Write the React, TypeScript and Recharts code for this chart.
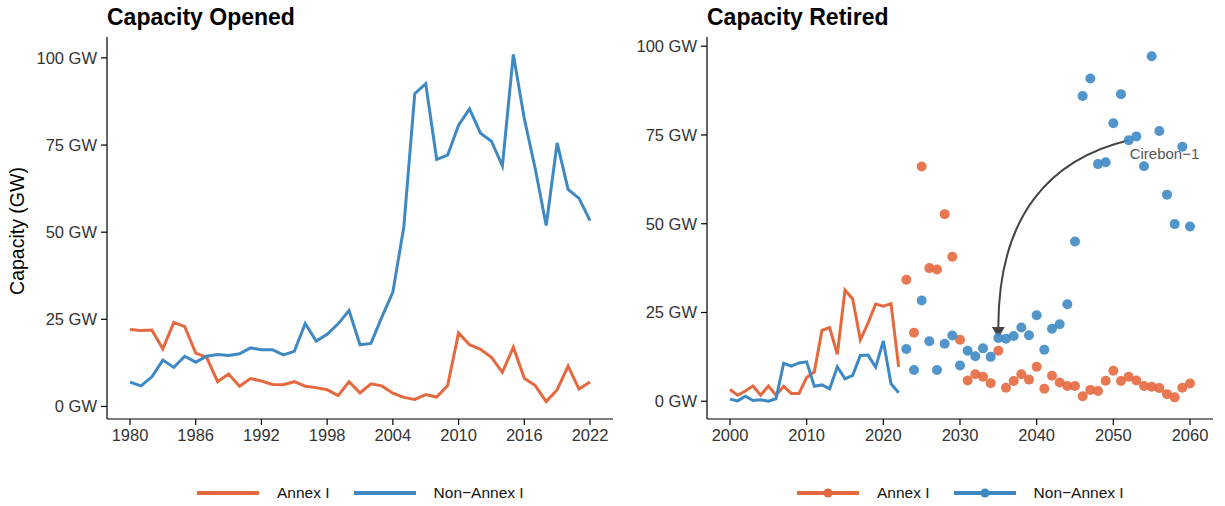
import React from 'react'
import { ComposedChart, Line, XAxis, YAxis, ReferenceLine } from 'recharts'

const ORANGE = '#E4693F'
const BLUE = '#3E89C4'
const FONT = '"Liberation Sans", Arial, Helvetica, sans-serif'

// Capacity opened, 1980-2022 (GW)
const openedYears = [
  1980, 1981, 1982, 1983, 1984, 1985, 1986, 1987, 1988, 1989,
  1990, 1991, 1992, 1993, 1994, 1995, 1996, 1997, 1998, 1999,
  2000, 2001, 2002, 2003, 2004, 2005, 2006, 2007, 2008, 2009,
  2010, 2011, 2012, 2013, 2014, 2015, 2016, 2017, 2018, 2019,
  2020, 2021, 2022,
]
const openedAnnex = [
  22.1, 21.8, 21.9, 16.5, 24.1, 22.9, 15.3, 14.1, 7.1, 9.3,
  5.8, 8.0, 7.3, 6.3, 6.25, 7.1, 5.8, 5.4, 4.8, 3.1,
  7.1, 3.9, 6.5, 5.9, 3.8, 2.6, 2.0, 3.4, 2.7, 6.0,
  21.1, 17.7, 16.4, 14.1, 9.8, 17.0, 8.1, 6.0, 1.4, 4.8,
  11.6, 5.0, 7.0,
]
const openedNonAnnex = [
  7.0, 5.9, 8.5, 13.3, 11.2, 14.4, 12.7, 14.4, 14.9, 14.6,
  15.1, 16.8, 16.3, 16.3, 14.8, 15.8, 23.8, 18.75, 20.7, 23.7,
  27.5, 17.7, 18.1, 25.7, 32.8, 51.5, 89.75, 92.6, 70.9, 72.1,
  80.7, 85.4, 78.4, 76.1, 69.0, 101.0, 82.6, 68.2, 51.9, 75.6,
  62.3, 59.7, 53.3,
]
const openedTicks = [1980, 1986, 1992, 1998, 2004, 2010, 2016, 2022]

// Capacity retired: history 2000-2022 (lines), projected 2023-2060 (points)
const retiredHistYears = [
  2000, 2001, 2002, 2003, 2004, 2005, 2006, 2007, 2008, 2009,
  2010, 2011, 2012, 2013, 2014, 2015, 2016, 2017, 2018, 2019,
  2020, 2021, 2022,
]
const retiredHistAnnex = [
  3.3, 1.7, 2.9, 4.3, 1.7, 4.3, 1.7, 4.2, 2.2, 2.2,
  6.7, 8.3, 20.0, 20.7, 13.2, 31.3, 28.8, 17.3, 22.0, 27.4,
  26.8, 27.5, 9.7,
]
const retiredHistNonAnnex = [
  0.6, 0.1, 1.4, 0.2, 0.4, 0.0, 0.7, 10.7, 9.9, 10.8,
  11.1, 4.2, 4.6, 3.5, 9.7, 6.3, 7.3, 12.9, 13.0, 9.6,
  17.0, 4.9, 2.4,
]
const retiredProjYears = [
  2023, 2024, 2025, 2026, 2027, 2028, 2029, 2030, 2031, 2032,
  2033, 2034, 2035, 2036, 2037, 2038, 2039, 2040, 2041, 2042,
  2043, 2044, 2045, 2046, 2047, 2048, 2049, 2050, 2051, 2052,
  2053, 2054, 2055, 2056, 2057, 2058, 2059, 2060,
]
const retiredProjAnnex = [
  34.2, 19.3, 66.1, 37.5, 37.1, 52.7, 40.7, 17.3, 5.85, 7.6,
  6.9, 5.1, 14.2, 3.8, 5.7, 7.6, 6.1, 9.7, 3.5, 7.2,
  5.3, 4.3, 4.3, 1.4, 3.2, 2.9, 5.75, 8.6, 5.7, 6.9,
  5.85, 4.3, 4.1, 3.7, 2.0, 1.1, 3.8, 5.0,
]
const retiredProjNonAnnex = [
  14.7, 8.8, 28.4, 16.9, 8.8, 16.2, 18.5, 10.1, 14.2, 12.7,
  14.9, 12.5, 17.8, 17.6, 18.4, 20.75, 18.6, 24.2, 14.5, 20.4,
  21.7, 27.3, 45.0, 86.0, 90.9, 66.8, 67.3, 78.3, 86.5, 73.5,
  74.6, 66.2, 97.2, 76.1, 58.2, 49.9, 71.7, 49.2,
]
const retiredTicks = [2000, 2010, 2020, 2030, 2040, 2050, 2060]

const gwTicks = [0, 25, 50, 75, 100]
const seriesNames = ['Annex I', 'Non\u2212Annex I']

// annotation: arrow from Cirebon-1 point to its 2035 position
const annotationLabel = 'Cirebon\u22121'
const annotationFrom = { x: 2052, y: 73.5 }
const annotationTo = { x: 2035, y: 17.8 }

const openedData = openedYears.map((year, i) => ({
  year,
  annex: openedAnnex[i],
  nonAnnex: openedNonAnnex[i],
}))

const retiredData = [
  ...retiredHistYears.map((year, i) => ({
    year,
    annexHist: retiredHistAnnex[i],
    nonAnnexHist: retiredHistNonAnnex[i],
  })),
  ...retiredProjYears.map((year, i) => ({
    year,
    annexProj: retiredProjAnnex[i],
    nonAnnexProj: retiredProjNonAnnex[i],
  })),
]

const tickStyle = { fill: '#333', fontSize: 16.5, fontFamily: FONT }
const axisLine = { stroke: '#000', strokeWidth: 1.2 }

const CurvedArrow = (props: any) => {
  const { x1, y1, x2, y2 } = props
  const dx = x1 - x2
  const head = 11
  const by = y2 - head
  const c1x = x1 - 0.6 * dx
  const c1y = y1 + 0.1 * (by - y1)
  const c2x = x2
  const c2y = by - 0.6 * (by - y1)
  return (
    <g>
      <path
        d={`M${x1},${y1} C${c1x},${c1y} ${c2x},${c2y} ${x2},${by}`}
        fill="none"
        stroke="#444"
        strokeWidth={2}
      />
      <polygon points={`${x2 - 6.5},${by} ${x2 + 6.5},${by} ${x2},${y2}`} fill="#444" />
      <text
        x={x1 + 1}
        y={y1 + 13}
        dominantBaseline="central"
        fontSize={15}
        fontFamily={FONT}
        fill="#555"
      >
        {annotationLabel}
      </text>
    </g>
  )
}

const Title = ({ left, text }: { left: number; text: string }) => (
  <div
    style={{
      position: 'absolute',
      left,
      top: 6,
      fontSize: 23,
      lineHeight: '23px',
      fontWeight: 700,
      fontFamily: FONT,
      color: '#000',
      whiteSpace: 'nowrap',
    }}
  >
    {text}
  </div>
)

const LegendRow = ({ left, withDots }: { left: number; withDots: boolean }) => {
  const colors = [ORANGE, BLUE]
  return (
    <div
      style={{
        position: 'absolute',
        left,
        top: 483,
        height: 20,
        display: 'flex',
        alignItems: 'center',
        fontFamily: FONT,
        fontSize: 15.5,
        color: '#111',
        whiteSpace: 'nowrap',
      }}
    >
      {seriesNames.map((name, i) => (
        <div key={name} style={{ display: 'flex', alignItems: 'center', marginRight: 24 }}>
          <svg width={62} height={12} style={{ marginRight: 18 }}>
            <line x1={0} y1={6} x2={62} y2={6} stroke={colors[i]} strokeWidth={4} />
            {withDots && <circle cx={31} cy={6} r={4.5} fill={colors[i]} />}
          </svg>
          <span>{name}</span>
        </div>
      ))}
    </div>
  )
}

export default function App() {
  return (
    <div
      style={{
        position: 'absolute',
        left: 0,
        top: 0,
        width: 1225,
        height: 506,
        background: '#fff',
        overflow: 'hidden',
      }}
    >
      <div style={{ position: 'absolute', left: 0, top: 0 }}>
        <ComposedChart
          width={620}
          height={506}
          data={openedData}
          margin={{ top: 37, right: 7, bottom: 57, left: 0 }}
        >
          <XAxis
            dataKey="year"
            type="number"
            domain={[1977.9, 2024.1]}
            ticks={openedTicks}
            allowDataOverflow
            height={30}
            tickSize={6}
            tickMargin={4}
            axisLine={axisLine}
            tickLine={axisLine}
            tick={tickStyle}
          />
          <YAxis
            type="number"
            domain={[-3.6, 106]}
            ticks={gwTicks}
            allowDataOverflow
            width={107}
            tickSize={6}
            tickMargin={4}
            tickFormatter={(v: number) => `${v} GW`}
            axisLine={axisLine}
            tickLine={axisLine}
            tick={tickStyle}
          />
          <Line
            dataKey="annex"
            name={seriesNames[0]}
            stroke={ORANGE}
            strokeWidth={3}
            dot={false}
            activeDot={false}
            type="linear"
            isAnimationActive={false}
          />
          <Line
            dataKey="nonAnnex"
            name={seriesNames[1]}
            stroke={BLUE}
            strokeWidth={3}
            dot={false}
            activeDot={false}
            type="linear"
            isAnimationActive={false}
          />
        </ComposedChart>
      </div>

      <div style={{ position: 'absolute', left: 612, top: 0 }}>
        <ComposedChart
          width={613}
          height={506}
          data={retiredData}
          margin={{ top: 37, right: 12, bottom: 57, left: 0 }}
        >
          <XAxis
            dataKey="year"
            type="number"
            domain={[1997, 2063]}
            ticks={retiredTicks}
            allowDataOverflow
            height={30}
            tickSize={6}
            tickMargin={4}
            axisLine={axisLine}
            tickLine={axisLine}
            tick={tickStyle}
          />
          <YAxis
            type="number"
            domain={[-5, 102.6]}
            ticks={gwTicks}
            allowDataOverflow
            width={95}
            tickSize={6}
            tickMargin={4}
            tickFormatter={(v: number) => `${v} GW`}
            axisLine={axisLine}
            tickLine={axisLine}
            tick={tickStyle}
          />
          <Line
            dataKey="annexHist"
            stroke={ORANGE}
            strokeWidth={3}
            dot={false}
            activeDot={false}
            type="linear"
            isAnimationActive={false}
          />
          <Line
            dataKey="nonAnnexHist"
            stroke={BLUE}
            strokeWidth={3}
            dot={false}
            activeDot={false}
            type="linear"
            isAnimationActive={false}
          />
          <Line
            dataKey="annexProj"
            stroke="none"
            dot={{ r: 5, fill: ORANGE, fillOpacity: 0.9, stroke: 'none' }}
            activeDot={false}
            isAnimationActive={false}
          />
          <Line
            dataKey="nonAnnexProj"
            stroke="none"
            dot={{ r: 5, fill: BLUE, fillOpacity: 0.9, stroke: 'none' }}
            activeDot={false}
            isAnimationActive={false}
          />
          <ReferenceLine
            segment={[annotationFrom, annotationTo]}
            shape={CurvedArrow}
            ifOverflow="visible"
          />
        </ComposedChart>
      </div>

      <Title left={107} text="Capacity Opened" />
      <Title left={707} text="Capacity Retired" />

      <div
        style={{
          position: 'absolute',
          left: 17,
          top: 231,
          transform: 'translate(-50%, -50%) rotate(-90deg)',
          fontFamily: FONT,
          fontSize: 19.5,
          color: '#000',
          whiteSpace: 'nowrap',
        }}
      >
        Capacity (GW)
      </div>

      <LegendRow left={197} withDots={false} />
      <LegendRow left={797} withDots={true} />
    </div>
  )
}
